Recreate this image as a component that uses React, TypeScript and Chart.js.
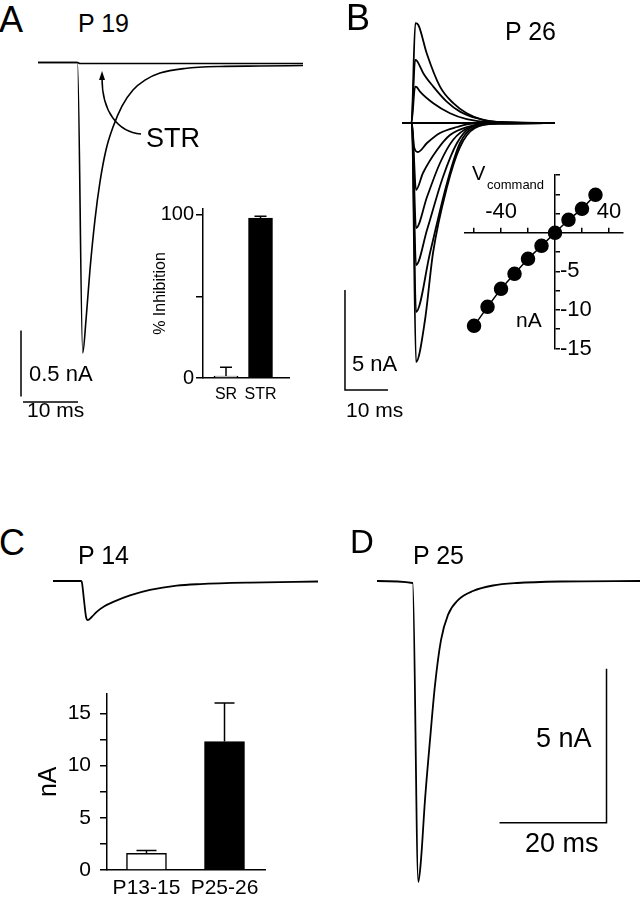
import React, { useEffect, useRef } from "react";
import { Chart, registerables } from "chart.js";
Chart.register(...registerables);

const FONT = "'Liberation Sans', Arial, Helvetica, sans-serif";

// ---------- Panel A (P 19): time in ms, current in nA ----------
const A_CONTROL: [number, number][] = [
  [0, 0], [7.18, 0], [8.13, -2.2], [8.73, -1.95], [9.45, -1.57], [10.36, -1.19],
  [11.27, -0.905], [12.36, -0.663], [13.64, -0.489], [15.27, -0.33], [17.27, -0.208],
  [19.45, -0.133], [22.18, -0.08], [26.73, -0.045], [33.09, -0.03], [40.36, -0.027], [48.18, -0.023],
];
const A_STR: [number, number][] = [[0, 0], [7.18, 0], [7.6, -0.008], [48.18, -0.008]];
const A_SCALE_NA = 0.5;
const A_SCALE_MS = 10;
const A_BAR_CATS = ["SR", "STR"];
const A_BAR_VALUES = [1.2, 98];
const A_BAR_ERRORS = [5.4, 1.2];
const A_BAR_TICKS = [0, 50, 100];
const A_BAR_TICK_LABELS = ["0", "", "100"];

// ---------- Panel B (P 26) ----------
const B_P30: [number, number][] = [[0, 0], [2.2, 0], [3.1, 4.99], [3.8, 4.9], [5.74, 3.49], [8.84, 1.82], [11.93, 0.99], [15.05, 0.49], [18.91, 0.15], [24.35, 0.04], [35.58, 0]];
const B_P20: [number, number][] = [[0, 0], [2.2, 0], [3.05, 3.15], [3.5, 3.1], [4.95, 2.49], [7.28, 1.82], [10.4, 1.07], [13.49, 0.57], [17.37, 0.24], [22.79, 0.04], [35.58, 0]];
const B_P10: [number, number][] = [[0, 0], [2.2, 0], [3.05, 1.82], [3.4, 1.8], [4.19, 1.57], [7.28, 0.99], [11.16, 0.49], [15.05, 0.19], [20.47, 0.04], [35.58, 0]];
const B_0: [number, number][] = [[0, 0], [35.58, 0]];
const B_M10: [number, number][] = [[0, 0], [2.3, 0], [2.8, -1.2], [3.7, -1.45], [5.81, -1.0], [8.84, -0.5], [12.79, -0.2], [16.5, -0.03], [35.58, 0]];
const B_M20: [number, number][] = [[0, 0], [2.3, 0], [3.26, -3.35], [4.88, -2.5], [8.14, -1.35], [11.16, -0.6], [15.12, -0.2], [20.5, -0.02], [35.58, 0]];
const B_M30: [number, number][] = [[0, 0], [2.3, 0], [3.26, -5.25], [5.81, -3.7], [8.84, -2.0], [11.86, -0.85], [15.81, -0.2], [21.6, -0.02], [35.58, 0]];
const B_M40: [number, number][] = [[0, 0], [2.3, 0], [3.26, -7.1], [5.81, -5.35], [9.53, -2.7], [12.79, -1.0], [15.81, -0.25], [21.6, -0.02], [35.58, 0]];
const B_M50: [number, number][] = [[0, 0], [2.3, 0], [3.26, -9.45], [6.51, -6.5], [10.47, -3.0], [13.49, -1.0], [16.5, -0.25], [22.8, -0.02], [35.58, 0]];
const B_M60: [number, number][] = [[0, 0], [2.3, 0], [3.26, -11.95], [5.35, -9.85], [7.21, -6.5], [10.47, -3.2], [13.49, -1.2], [16.98, -0.25], [22.8, -0.02], [35.58, 0]];
const B_SCALE_NA = 5;
const B_SCALE_MS = 10;

const IV_VOLTAGES = [-60, -50, -40, -30, -20, -10, 0, 10, 20, 30];
const IV_CURRENTS = [-12.06, -9.6, -7.26, -5.32, -3.37, -1.69, 0, 1.69, 3.11, 4.93];
const IV_X_TICKS = [-60, -40, -20, 0, 20, 40];
const IV_X_LABELS = ["", "-40", "", "", "", "40"];
const IV_Y_TICKS = [-15, -12.5, -10, -7.5, -5, -2.5, 0, 2.5, 5, 7.5];
const IV_Y_LABELS = ["-15", "", "-10", "", "-5", "", "", "", "", ""];

// ---------- Panel C (P 14) ----------
const C_TRACE: [number, number][] = [
  [0, 0], [5.18, 0], [5.36, -0.02], [5.79, -0.617], [6.17, -1.16], [6.49, -1.27], [7.23, -1.17],
  [8.17, -1.0], [9.6, -0.82], [11.27, -0.68], [14.39, -0.47], [18.13, -0.29], [23.12, -0.15], [27.48, -0.1],
  [36.8, -0.05], [49.53, -0.016],
];
const C_BAR_CATS = ["P13-15", "P25-26"];
const C_BAR_VALUES = [1.6, 12.3];
const C_BAR_ERRORS = [0.26, 3.7];
const C_BAR_TICKS = [0, 2.5, 5, 7.5, 10, 12.5, 15];
const C_BAR_TICK_LABELS = ["0", "", "5", "", "10", "", "15"];

// ---------- Panel D (P 25) ----------
const D_TRACE: [number, number][] = [
  [0, 0], [6.67, -0.065], [7.72, -9.77], [8.22, -9.06], [8.97, -7.11], [9.91, -5.16], [10.84, -3.38],
  [11.96, -1.92], [13.27, -1.1], [15.14, -0.62], [17.94, -0.325], [21.68, -0.146], [26.17, -0.065],
  [34.21, -0.016], [49.16, 0],
];
const D_SCALE_NA = 5;
const D_SCALE_MS = 20;

// ---------- layout helpers ----------
type Frame = { left: number; top: number; width: number; height: number };
type TraceFrame = Frame & { x0: number; y0: number; pxX: number; pxY: number };

function ranges(f: TraceFrame) {
  return {
    xMin: (f.left - f.x0) / f.pxX,
    xMax: (f.left + f.width - f.x0) / f.pxX,
    yMax: (f.y0 - f.top) / f.pxY,
    yMin: (f.y0 - f.top - f.height) / f.pxY,
  };
}

function traceDs(pts: [number, number][], width = 1.8) {
  return {
    data: pts.map(([x, y]) => ({ x, y })),
    showLine: true,
    borderColor: "#000",
    borderWidth: width,
    pointRadius: 0,
    cubicInterpolationMode: "monotone",
    fill: false,
  };
}

function barDs(pts: { x: number; y: number }[]) {
  return {
    data: pts,
    showLine: true,
    borderColor: "#000",
    borderWidth: 1.5,
    pointRadius: 0,
    tension: 0,
    fill: false,
  };
}

function traceConfig(f: TraceFrame, datasets: any[], plugins: any[] = []) {
  const r = ranges(f);
  return {
    type: "scatter",
    data: { datasets },
    options: {
      responsive: false,
      animation: false,
      devicePixelRatio: 1,
      events: [],
      layout: { padding: 0 },
      plugins: { legend: { display: false }, tooltip: { enabled: false } },
      scales: {
        x: { type: "linear", min: r.xMin, max: r.xMax, display: false },
        y: { type: "linear", min: r.yMin, max: r.yMax, display: false },
      },
    },
    plugins,
  };
}

function errorBarPlugin(errors: number[], capRatio: number) {
  return {
    id: "errorBars",
    afterDatasetsDraw(chart: any) {
      const meta = chart.getDatasetMeta(0);
      const ys = chart.scales.y;
      const data = chart.data.datasets[0].data;
      const ctx = chart.ctx;
      ctx.save();
      ctx.strokeStyle = "#000";
      ctx.lineWidth = 1.5;
      meta.data.forEach((bar: any, i: number) => {
        const v = data[i].y;
        const yTop = ys.getPixelForValue(v);
        const yErr = ys.getPixelForValue(v + errors[i]);
        const half = (bar.width * capRatio) / 2;
        ctx.beginPath();
        ctx.moveTo(bar.x, yTop);
        ctx.lineTo(bar.x, yErr);
        ctx.moveTo(bar.x - half, yErr);
        ctx.lineTo(bar.x + half, yErr);
        ctx.stroke();
      });
      ctx.restore();
    },
  };
}

const arrowPlugin = {
  id: "strArrow",
  afterDatasetsDraw(chart: any) {
    const xs = chart.scales.x;
    const ys = chart.scales.y;
    const P = (t: number, i: number) => [xs.getPixelForValue(t), ys.getPixelForValue(i)];
    const p0 = P(18.73, -0.542);
    const p1 = P(14.55, -0.527);
    const p2 = P(11.64, -0.375);
    const p3 = P(11.64, -0.117);
    const tip = P(11.64, -0.064);
    const ctx = chart.ctx;
    ctx.save();
    ctx.strokeStyle = "#000";
    ctx.fillStyle = "#000";
    ctx.lineWidth = 1.5;
    ctx.beginPath();
    ctx.moveTo(p0[0], p0[1]);
    ctx.bezierCurveTo(p1[0], p1[1], p2[0], p2[1], p3[0], p3[1]);
    ctx.stroke();
    ctx.beginPath();
    ctx.moveTo(tip[0], tip[1]);
    ctx.lineTo(tip[0] - 3, tip[1] + 9);
    ctx.lineTo(tip[0] + 3, tip[1] + 9);
    ctx.closePath();
    ctx.fill();
    ctx.restore();
  },
};

const crossAxesPlugin = {
  id: "crossAxes",
  afterLayout(chart: any) {
    const xs = chart.scales.x;
    const ys = chart.scales.y;
    const yPix = ys.getPixelForValue(0);
    xs.top = yPix - 45;
    xs.bottom = yPix;
    const xPix = xs.getPixelForValue(0);
    ys.left = xPix;
    ys.right = xPix + 70;
  },
};

function barConfig(opts: {
  cats: string[]; values: number[]; errors: number[]; ticks: number[]; tickLabels: string[];
  xMin: number; xMax: number; yMax: number; thickness: number; yWidth: number; xHeight: number;
  padTop: number; padRight: number; tickFont: number; catFont: number; catPad: number; tickPad: number;
  title: string; titleFont: number; titlePad: number;
}) {
  return {
    type: "bar",
    data: {
      datasets: [
        {
          data: opts.values.map((v, i) => ({ x: i, y: v })),
          backgroundColor: ["#ffffff", "#000000"],
          borderColor: "#000",
          borderWidth: 1.5,
          barThickness: opts.thickness,
        },
      ],
    },
    options: {
      responsive: false,
      animation: false,
      devicePixelRatio: 1,
      events: [],
      layout: { padding: { top: opts.padTop, right: opts.padRight, left: 0, bottom: 0 } },
      plugins: { legend: { display: false }, tooltip: { enabled: false } },
      scales: {
        x: {
          type: "linear",
          offset: false,
          min: opts.xMin,
          max: opts.xMax,
          grid: { display: false, offset: false, drawTicks: false },
          border: { display: true, color: "#000", width: 1.5 },
          afterBuildTicks: (s: any) => { s.ticks = opts.cats.map((_, i) => ({ value: i })); },
          ticks: {
            autoSkip: false, maxRotation: 0, minRotation: 0, padding: opts.catPad, color: "#000",
            font: { family: FONT, size: opts.catFont },
            callback: (_v: any, i: number) => opts.cats[i] ?? "",
          },
          afterFit: (s: any) => { s.height = opts.xHeight; },
        },
        y: {
          type: "linear",
          min: 0,
          max: opts.yMax,
          grid: { display: true, drawOnChartArea: false, drawTicks: true, tickLength: 7, color: "#000", lineWidth: 1.5 },
          border: { display: true, color: "#000", width: 1.5 },
          afterBuildTicks: (s: any) => { s.ticks = opts.ticks.map((v) => ({ value: v })); },
          ticks: {
            autoSkip: false, padding: opts.tickPad, color: "#000",
            font: { family: FONT, size: opts.tickFont },
            callback: (_v: any, i: number) => opts.tickLabels[i] ?? "",
          },
          title: {
            display: true, text: opts.title, color: "#000",
            font: { family: FONT, size: opts.titleFont },
            padding: { top: opts.titlePad, bottom: 0 },
          },
          afterFit: (s: any) => { s.width = opts.yWidth; },
        },
      },
    },
    plugins: [errorBarPlugin(opts.errors, 0.5)],
  };
}

// ---------- frames (page pixels) ----------
const FA: TraceFrame = { left: 0, top: 40, width: 320, height: 390, x0: 38, y0: 62.5, pxX: 5.5, pxY: 132 };
const FA_BAR: Frame = { left: 140, top: 195, width: 160, height: 215 };
const FB: TraceFrame = { left: 336, top: 10, width: 230, height: 415, x0: 402, y0: 123, pxX: 4.3, pxY: 20 };
const FIV: Frame = { left: 450, top: 150, width: 191, height: 215 };
const FC: TraceFrame = { left: 40, top: 560, width: 290, height: 80, x0: 53, y0: 581, pxX: 5.35, pxY: 30.8 };
const FC_BAR: Frame = { left: 20, top: 672, width: 255, height: 228 };
const FD: TraceFrame = { left: 370, top: 560, width: 271, height: 340, x0: 377, y0: 581, pxX: 5.35, pxY: 30.8 };

function buildA() {
  const vx = -3.09, vy = -2.03, hy = -2.572, hx = -2.73;
  return traceConfig(FA, [
    traceDs(A_STR, 1.6),
    traceDs(A_CONTROL, 1.6),
    barDs([{ x: vx, y: vy }, { x: vx, y: vy - A_SCALE_NA }]),
    barDs([{ x: hx, y: hy }, { x: hx + A_SCALE_MS, y: hy }]),
  ], [arrowPlugin]);
}

function buildABar() {
  return barConfig({
    cats: A_BAR_CATS, values: A_BAR_VALUES, errors: A_BAR_ERRORS, ticks: A_BAR_TICKS, tickLabels: A_BAR_TICK_LABELS,
    xMin: -0.667, xMax: 1.826, yMax: 103.6, thickness: 24, yWidth: 63, xHeight: 32, padTop: 10, padRight: 11,
    tickFont: 20, catFont: 16, catPad: 7, tickPad: 2, title: "% Inhibition", titleFont: 16, titlePad: 11,
  });
}

function buildB() {
  const bx = -13.26, by0 = -8.35;
  return traceConfig(FB, [
    traceDs(B_0), traceDs(B_P10), traceDs(B_P20), traceDs(B_P30),
    traceDs(B_M10), traceDs(B_M20), traceDs(B_M30), traceDs(B_M40), traceDs(B_M50), traceDs(B_M60),
    barDs([{ x: bx, y: by0 }, { x: bx, y: by0 - B_SCALE_NA }, { x: bx + B_SCALE_MS, y: by0 - B_SCALE_NA }]),
  ]);
}

function buildIV() {
  return {
    type: "scatter",
    data: {
      datasets: [
        {
          data: IV_VOLTAGES.map((v, i) => ({ x: v, y: IV_CURRENTS[i] })),
          showLine: true,
          borderColor: "#000",
          borderWidth: 1.5,
          pointRadius: 6.5,
          pointBackgroundColor: "#000",
          pointBorderColor: "#000",
          clip: false,
        },
      ],
    },
    options: {
      responsive: false,
      animation: false,
      devicePixelRatio: 1,
      events: [],
      layout: { padding: { left: 15, right: 18, top: 25, bottom: 16.5 } },
      plugins: { legend: { display: false }, tooltip: { enabled: false } },
      scales: {
        x: {
          type: "linear", position: "top", min: -66.7, max: 50.4,
          grid: { display: true, drawOnChartArea: false, drawTicks: true, tickLength: 5, color: "#000", lineWidth: 1.5 },
          border: { display: true, color: "#000", width: 1.5 },
          afterBuildTicks: (s: any) => { s.ticks = IV_X_TICKS.map((v) => ({ value: v })); },
          ticks: {
            autoSkip: false, maxRotation: 0, minRotation: 0, padding: 3, color: "#000",
            font: { family: FONT, size: 22 },
            callback: (_v: any, i: number) => IV_X_LABELS[i] ?? "",
          },
          afterFit: (s: any) => { s.height = 0; },
        },
        y: {
          type: "linear", position: "right", min: -15, max: 7.5,
          grid: { display: true, drawOnChartArea: false, drawTicks: true, tickLength: 5, color: "#000", lineWidth: 1.5 },
          border: { display: true, color: "#000", width: 1.5 },
          afterBuildTicks: (s: any) => { s.ticks = IV_Y_TICKS.map((v) => ({ value: v })); },
          ticks: {
            autoSkip: false, padding: 0, color: "#000",
            font: { family: FONT, size: 22 },
            callback: (_v: any, i: number) => IV_Y_LABELS[i] ?? "",
          },
          afterFit: (s: any) => { s.width = 0; },
        },
      },
    },
    plugins: [crossAxesPlugin],
  };
}

function buildC() {
  return traceConfig(FC, [traceDs(C_TRACE, 1.8)]);
}

function buildCBar() {
  return barConfig({
    cats: C_BAR_CATS, values: C_BAR_VALUES, errors: C_BAR_ERRORS, ticks: C_BAR_TICKS, tickLabels: C_BAR_TICK_LABELS,
    xMin: -0.506, xMax: 1.519, yMax: 16.9, thickness: 40, yWidth: 87, xHeight: 30, padTop: 10, padRight: 10,
    tickFont: 21, catFont: 21, catPad: 6, tickPad: 9, title: "nA", titleFont: 25, titlePad: 14,
  });
}

function buildD() {
  const sx = 42.9, sy0 = -2.85, sy1 = sy0 - D_SCALE_NA;
  return traceConfig(FD, [
    traceDs(D_TRACE, 1.8),
    barDs([{ x: sx, y: sy0 }, { x: sx, y: sy1 }, { x: sx - D_SCALE_MS, y: sy1 }]),
  ]);
}

function ChartBox({ frame, build }: { frame: Frame; build: () => any }) {
  const ref = useRef<HTMLCanvasElement | null>(null);
  useEffect(() => {
    if (!ref.current) return;
    const chart = new Chart(ref.current, build());
    return () => chart.destroy();
  }, []);
  return (
    <canvas
      ref={ref}
      width={frame.width}
      height={frame.height}
      style={{ position: "absolute", left: frame.left, top: frame.top, width: frame.width, height: frame.height }}
    />
  );
}

function Label({ x, base, size, children }: { x: number; base: number; size: number; children: React.ReactNode }) {
  return (
    <div
      style={{
        position: "absolute", left: x, top: base - 0.8465 * size, fontSize: size, lineHeight: 1,
        fontFamily: FONT, color: "#000", whiteSpace: "nowrap",
      }}
    >
      {children}
    </div>
  );
}

export default function App() {
  useEffect(() => {
    document.body.style.margin = "0";
  }, []);
  return (
    <div style={{ position: "fixed", left: 0, top: 0, width: 641, height: 900, background: "#fff", overflow: "hidden" }}>
      <ChartBox frame={FA} build={buildA} />
      <ChartBox frame={FB} build={buildB} />
      <ChartBox frame={FC} build={buildC} />
      <ChartBox frame={FD} build={buildD} />
      <ChartBox frame={FA_BAR} build={buildABar} />
      <ChartBox frame={FIV} build={buildIV} />
      <ChartBox frame={FC_BAR} build={buildCBar} />

      <Label x={-1} base={32} size={36}>A</Label>
      <Label x={78} base={32} size={25}>P 19</Label>
      <Label x={146} base={148} size={27}>STR</Label>
      <Label x={29} base={382} size={22}>0.5 nA</Label>
      <Label x={27} base={417} size={21}>10 ms</Label>

      <Label x={346} base={30} size={36}>B</Label>
      <Label x={505} base={40} size={25}>P 26</Label>
      <Label x={352} base={372} size={22}>5 nA</Label>
      <Label x={346} base={417} size={21}>10 ms</Label>
      <Label x={472} base={180} size={20}>V</Label>
      <Label x={487} base={189} size={13}>command</Label>
      <Label x={516} base={327} size={21}>nA</Label>

      <Label x={-1} base={555} size={36}>C</Label>
      <Label x={78} base={564} size={25}>P 14</Label>

      <Label x={350} base={553} size={33}>D</Label>
      <Label x={413} base={564} size={25}>P 25</Label>
      <Label x={536} base={748} size={27}>5 nA</Label>
      <Label x={525} base={853} size={27}>20 ms</Label>
    </div>
  );
}
